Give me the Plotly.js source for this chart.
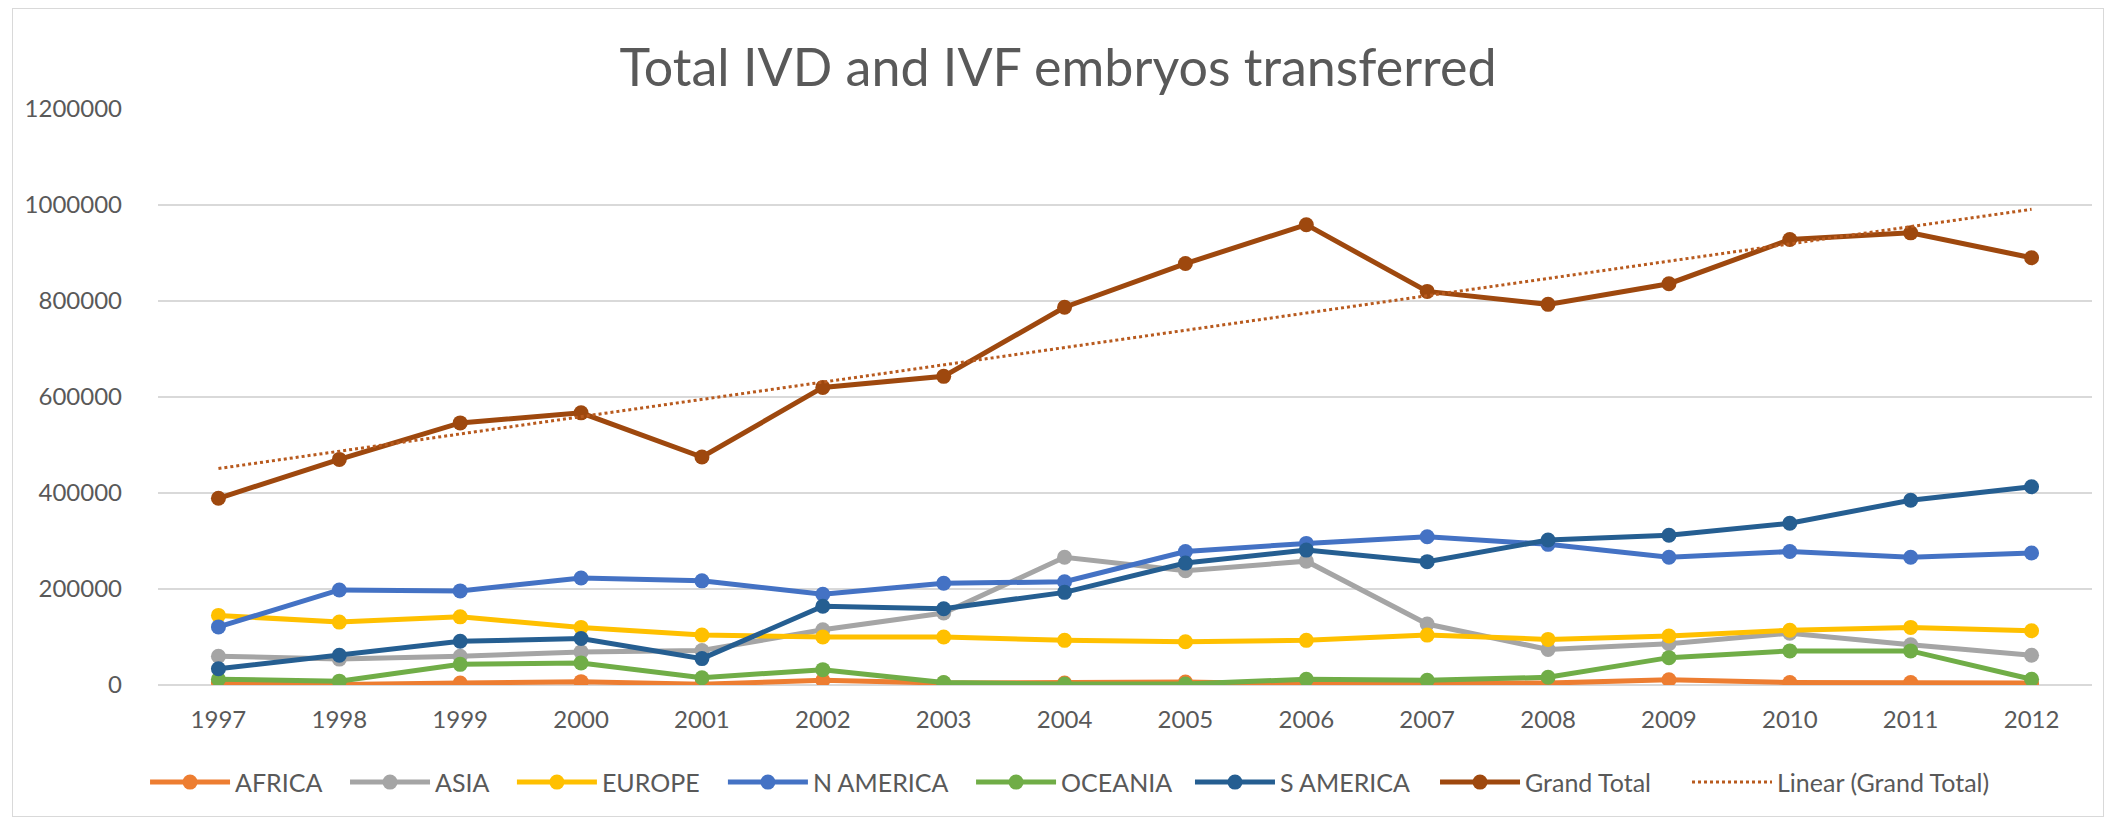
<!DOCTYPE html>
<html>
<head>
<meta charset="utf-8">
<script src="https://cdn.plot.ly/plotly-3.0.1.min.js"></script>
<style>
  html, body { margin: 0; padding: 0; background: #ffffff; width: 2119px; height: 826px; overflow: hidden; }
  #frame { position: absolute; left: 12px; top: 8px; width: 2092px; height: 809px; border: 1px solid #D9D9D9; box-sizing: border-box; background: #fff; }
  #chart { position: absolute; left: 0; top: 0; width: 2090px; height: 807px; }
</style>
</head>
<body>
<div id="frame"><div id="chart"></div></div>
<script>
// ---- Data ----
const years = ['1997','1998','1999','2000','2001','2002','2003','2004','2005','2006','2007','2008','2009','2010','2011','2012'];

const africa    = [5000, 1000, 4000, 7000, 1500, 10000, 4000, 4000, 6000, 2000, 5000, 4000, 11000, 5000, 5000, 4000];
const asia      = [60000, 54000, 60000, 69000, 72000, 115000, 150000, 266000, 238000, 258000, 127000, 74000, 86000, 108000, 84000, 62000];
const europe    = [145000, 131000, 142000, 120000, 104000, 100000, 100000, 93000, 90000, 93000, 104000, 95000, 102000, 114000, 120000, 113000];
const nAmerica  = [121000, 198000, 196000, 223000, 217000, 189000, 212000, 215000, 278000, 295000, 309000, 293000, 266000, 278000, 266000, 275000];
const oceania   = [12000, 8000, 43000, 46000, 15000, 32000, 5000, 2000, 2000, 12000, 10000, 16000, 57000, 71000, 71000, 12000];
const sAmerica  = [34000, 62000, 91000, 97000, 55000, 164000, 159000, 193000, 254000, 281000, 257000, 302000, 312000, 337000, 385000, 413000];
const grandTotal= [389000, 470000, 546000, 567000, 475000, 620000, 643000, 787000, 878000, 959000, 820000, 793000, 836000, 928000, 942000, 890000];

// Linear trend of Grand Total, read at its two ends
const trendYears  = ['1997', '2012'];
const trendValues = [451000, 991000];

const seriesNames  = ['AFRICA', 'ASIA', 'EUROPE', 'N AMERICA', 'OCEANIA', 'S AMERICA', 'Grand Total'];
const seriesValues = [africa, asia, europe, nAmerica, oceania, sAmerica, grandTotal];
const seriesColors = ['#ED7D31', '#A5A5A5', '#FFC000', '#4472C4', '#70AD47', '#255E91', '#9E480E'];
const trendName = 'Linear (Grand Total)';
const trendColor = '#B85A1E';

// legend entry positions (paper x of each entry's left edge) — layout only
const legendX = [-0.0067, 0.0967, 0.1830, 0.2921, 0.4204, 0.5336, 0.6603, 0.7906];

const FONT = 'Lato, "Open Sans", "DejaVu Sans", sans-serif';

const legendKey = i => (i === 0 ? 'legend' : 'legend' + (i + 1));

const traces = seriesNames.map((name, i) => ({
  type: 'scatter',
  mode: 'lines+markers',
  name: name,
  x: years,
  y: seriesValues[i],
  legend: legendKey(i),
  line: { color: seriesColors[i], width: 5 },
  marker: { color: seriesColors[i], size: 15, symbol: 'circle' }
}));

traces.push({
  type: 'scatter',
  mode: 'lines',
  name: trendName,
  x: trendYears,
  y: trendValues,
  legend: legendKey(7),
  line: { color: trendColor, width: 3, dash: 'dot' }
});

const layout = {
  width: 2090,
  height: 807,
  paper_bgcolor: '#ffffff',
  plot_bgcolor: '#ffffff',
  font: { family: FONT, color: '#595959', size: 24 },
  margin: { l: 145, r: 11, t: 100, b: 129 },
  title: {
    text: 'Total IVD and IVF embryos transferred',
    font: { family: FONT, size: 52, color: '#595959' },
    x: 0.5, xanchor: 'center',
    yref: 'container', y: 0.927, yanchor: 'middle'
  },
  xaxis: {
    type: 'category',
    range: [-0.5, 15.5],
    showgrid: false,
    zeroline: false,
    showline: false,
    ticks: '',
    ticklabelstandoff: 18,
    tickfont: { family: FONT, size: 24, color: '#595959' },
    fixedrange: true
  },
  yaxis: {
    range: [0, 1200000],
    dtick: 200000,
    tick0: 0,
    tickformat: 'd',
    showgrid: true,
    gridcolor: '#D9D9D9',
    gridwidth: 1.5,
    zeroline: true,
    zerolinecolor: '#D9D9D9',
    zerolinewidth: 1.5,
    showline: false,
    ticks: '',
    ticklabelstandoff: 35,
    tickfont: { family: FONT, size: 24, color: '#595959' },
    fixedrange: true
  },
  showlegend: true,
  hovermode: false
};

legendX.forEach((lx, i) => {
  layout[legendKey(i)] = {
    orientation: 'h',
    x: lx, xanchor: 'left',
    y: -0.169, yanchor: 'middle',
    itemwidth: 80,
    font: { family: FONT, size: 25, color: '#595959' },
    bgcolor: 'rgba(0,0,0,0)',
    borderwidth: 0
  };
});

Plotly.newPlot('chart', traces, layout, { staticPlot: true, displayModeBar: false });
</script>
</body>
</html>
